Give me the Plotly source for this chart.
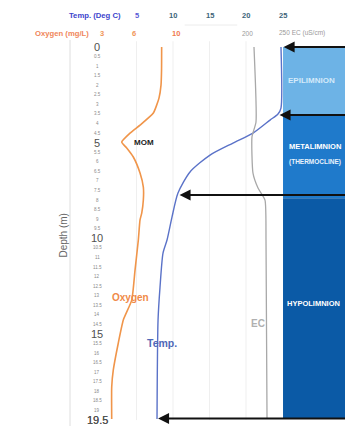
import plotly.graph_objects as go

# ---------------- data ----------------
temp_depth = [0, 3.19, 3.50, 3.82, 4.50, 5.02, 5.65, 6.53, 7.63, 8.89, 10.09, 10.77, 12.55, 14.27, 19.45]
temp_vals = [24.79, 24.79, 24.38, 23.29, 20.96, 18.22, 15.07, 12.33, 10.68, 9.86, 9.18, 8.63, 8.22, 7.95, 7.81]

oxy_depth = [0, 1.20, 1.99, 2.67, 3.45, 4.08, 4.50, 4.97, 5.28, 5.75, 6.59, 7.32, 8.00, 8.68, 9.04,
             10.09, 11.66, 13.23, 14.27, 15.47, 16.88, 17.77, 19.45]
oxy_vals = [8.62, 8.61, 8.56, 8.37, 7.84, 6.59, 5.65, 4.87, 5.34, 5.96, 6.59, 6.90, 6.90, 6.75, 6.59,
            6.43, 6.12, 5.81, 5.02, 4.55, 4.08, 3.93, 3.93]

ec_depth = [0, 3.92, 4.70, 6.59, 7.37, 8.00, 10.09, 19.39]
ec_vals = [209.7, 212.5, 206.9, 208.3, 215.3, 225.0, 226.4, 227.8]

temp_ticks = [5, 10, 15, 20, 25]
oxy_ticks = [3, 6, 10]
ec_ticks = [200, 250]
ec_tick_text = ["200", "250 EC (uS/cm)"]

depth_ticks = [i * 0.5 for i in range(40)]
major_depths = [0, 5, 10, 15, 19.5]

layers = ["EPILIMNION", "METALIMNION", "HYPOLIMNION"]
layer_top = [0, 3.55, 7.9]
layer_bottom = [3.55, 7.9, 19.4]
layer_colors = ["#6db3e6", "#1f7acb", "#0b5aa6"]

arrow_depths = [0, 3.55, 7.74, 19.42]
arrow_tips = [25.15, 24.6, 10.9, 7.95]

# ---------------- axes geometry ----------------
W, H = 345, 426
x_range = [-13.70, 33.56]          # temperature
x2_range = [-6.559, 25.836]        # oxygen
x3_range = [-143.06, 336.11]       # EC
y_range = [19.81, -2.457]          # depth (reversed)

TEMP_C = "#5a72c8"
OXY_C = "#f0954a"
EC_C = "#a8a8a8"
FONT = "Liberation Sans, Arial, sans-serif"

fig = go.Figure()

fig.add_trace(go.Scatter(x=oxy_vals, y=oxy_depth, xaxis="x2", yaxis="y", mode="lines",
                         line=dict(color=OXY_C, width=1.6, shape="spline", smoothing=0.5),
                         hoverinfo="skip", showlegend=False))
fig.add_trace(go.Scatter(x=ec_vals, y=ec_depth, xaxis="x3", yaxis="y", mode="lines",
                         line=dict(color=EC_C, width=1.3, shape="spline", smoothing=0.5),
                         hoverinfo="skip", showlegend=False))
fig.add_trace(go.Scatter(x=temp_vals, y=temp_depth, xaxis="x", yaxis="y", mode="lines",
                         line=dict(color=TEMP_C, width=1.4, shape="spline", smoothing=0.7),
                         hoverinfo="skip", showlegend=False))

shapes = []
# faint vertical gridlines
for t in [5, 10, 15, 20]:
    shapes.append(dict(type="line", xref="x", yref="y", x0=t, x1=t, y0=-0.3, y1=19.5,
                       line=dict(color="#efefef", width=1), layer="below"))
# left border line
shapes.append(dict(type="line", xref="x", yref="y", x0=-4.11, x1=-4.11, y0=-0.37, y1=19.81,
                   line=dict(color="#dedede", width=1), layer="below"))
# header separator
shapes.append(dict(type="line", xref="x", yref="y", x0=11.6, x1=18.8, y0=-1.15, y1=-1.15,
                   line=dict(color="#ececec", width=1), layer="below"))
# layer bands
for top, bot, col in zip(layer_top, layer_bottom, layer_colors):
    shapes.append(dict(type="rect", xref="x", yref="y", x0=25.07, x1=40, y0=top, y1=bot,
                       fillcolor=col, line=dict(width=0), layer="below"))

ann = []
# header labels
ann.append(dict(text="<b>Temp. (Deg C)</b>", xref="x", yref="paper", x=3.1, y=1 - 16 / H,
                xanchor="right", yanchor="middle", showarrow=False,
                font=dict(family=FONT, size=7.7, color="#3b44cc")))
ann.append(dict(text="<b>Oxygen (mg/L)</b>", xref="x2", yref="paper", x=1.95, y=1 - 33 / H,
                xanchor="right", yanchor="middle", showarrow=False,
                font=dict(family=FONT, size=7.7, color="#f0865a")))
for i, t in enumerate(temp_ticks):
    ann.append(dict(text="<b>%d</b>" % t, xref="x", yref="paper", x=t, y=1 - 16 / H,
                    xanchor="center", yanchor="middle", showarrow=False,
                    font=dict(family=FONT, size=7.5, color="#5a5ad6" if i == 0 else "#3d6478")))
for o in oxy_ticks:
    ann.append(dict(text="<b>%d</b>" % o, xref="x2", yref="paper", x=o, y=1 - 33 / H,
                    xanchor="center", yanchor="middle", showarrow=False,
                    font=dict(family=FONT, size=7.5, color="#f07a50" if o == 10 else "#f0955a")))
for e, lab in zip(ec_ticks, ec_tick_text):
    ann.append(dict(text=lab, xref="x3", yref="paper", x=e, y=1 - 33 / H,
                    xanchor="center" if e == 200 else "left", xshift=0 if e == 200 else -6,
                    yanchor="middle", showarrow=False,
                    font=dict(family=FONT, size=6.5, color="#9a9a9a")))

# depth tick labels
for d in depth_ticks + [19.5]:
    major = d in major_depths
    txt = ("%g" % d)
    ann.append(dict(text=txt, xref="x", yref="y", x=-0.41, y=d, xanchor="center", yanchor="middle",
                    showarrow=False,
                    font=dict(family=FONT, size=11 if major else 4.5,
                              color="#505050" if major else "#8a8a8a")))
ann.append(dict(text="Depth (m)", xref="x", yref="y", x=-5.0, y=9.88, textangle=-90,
                xanchor="center", yanchor="middle", showarrow=False,
                font=dict(family=FONT, size=10, color="#666666")))

# curve labels
ann.append(dict(text="<b>MOM</b>", xref="x2", yref="y", x=7.0, y=5.0, xanchor="center",
                yanchor="middle", showarrow=False, font=dict(family=FONT, size=8, color="#222222")))
ann.append(dict(text="<b>Oxygen</b>", xref="x2", yref="y", x=5.7, y=13.07, xanchor="center",
                yanchor="middle", showarrow=False, font=dict(family=FONT, size=10, color="#f08a48")))
ann.append(dict(text="<b>Temp.</b>", xref="x", yref="y", x=8.55, y=15.47, xanchor="center",
                yanchor="middle", showarrow=False, font=dict(family=FONT, size=10.5, color="#4f68b8")))
ann.append(dict(text="<b>EC</b>", xref="x3", yref="y", x=215.5, y=14.43, xanchor="center",
                yanchor="middle", showarrow=False, font=dict(family=FONT, size=10, color="#b0b0b0")))

# layer labels (sized to stay within the page)
ann.append(dict(text="<b>EPILIMNION</b>", xref="x", yref="y", x=25.5, y=1.75, xanchor="left",
                yanchor="middle", showarrow=False, font=dict(family=FONT, size=8, color="#d4eafa")))
ann.append(dict(text="<b>METALIMNION</b>", xref="x", yref="y", x=25.6, y=5.2, xanchor="left",
                yanchor="middle", showarrow=False, font=dict(family=FONT, size=7.5, color="#ffffff")))
ann.append(dict(text="<b>(THERMOCLINE)</b>", xref="x", yref="y", x=25.6, y=6.0, xanchor="left",
                yanchor="middle", showarrow=False, font=dict(family=FONT, size=6.5, color="#e8f2fc")))
ann.append(dict(text="<b>HYPOLIMNION</b>", xref="x", yref="y", x=25.4, y=13.43, xanchor="left",
                yanchor="middle", showarrow=False, font=dict(family=FONT, size=7.5, color="#ffffff")))

# arrows
for d, tip in zip(arrow_depths, arrow_tips):
    ann.append(dict(text="", xref="x", yref="y", x=tip, y=d, axref="x", ayref="y", ax=40, ay=d,
                    showarrow=True, arrowhead=2, arrowsize=1.1, arrowwidth=2, arrowcolor="#111111"))

fig.update_layout(
    width=W, height=H, margin=dict(l=0, r=0, t=0, b=0, pad=0),
    paper_bgcolor="white", plot_bgcolor="white",
    xaxis=dict(range=x_range, visible=False, fixedrange=True),
    xaxis2=dict(range=x2_range, visible=False, overlaying="x", anchor="y"),
    xaxis3=dict(range=x3_range, visible=False, overlaying="x", anchor="y"),
    yaxis=dict(range=y_range, visible=False),
    shapes=shapes, annotations=ann, showlegend=False,
)

fig.write_html("out.html")
